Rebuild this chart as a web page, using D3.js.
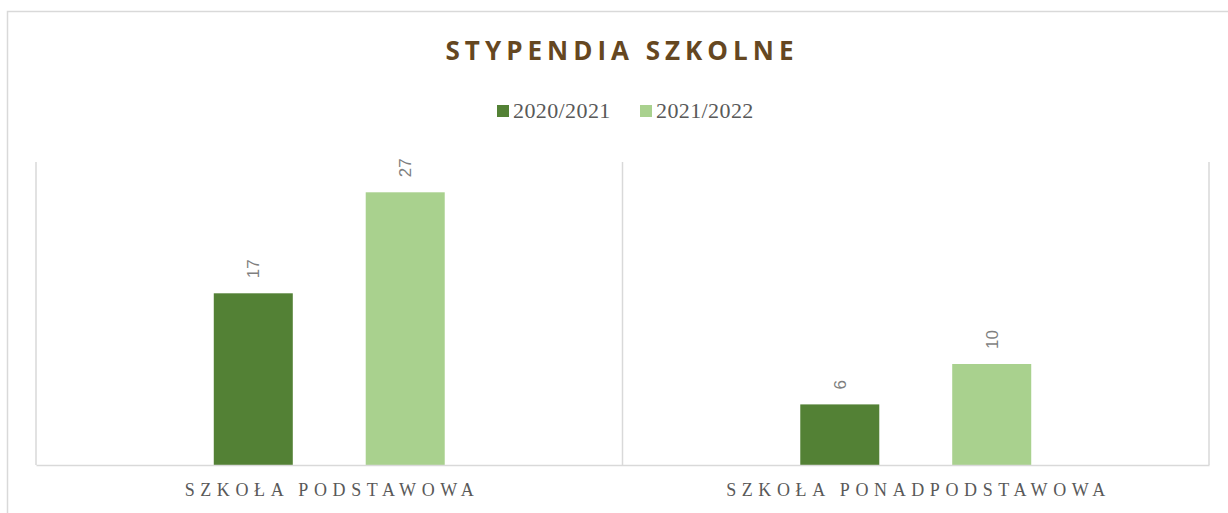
<!DOCTYPE html>
<html>
<head>
<meta charset="utf-8">
<script src="https://cdn.jsdelivr.net/npm/d3@7"></script>
<style>
  body { margin: 0; background: #fff; }
  svg { display: block; }
</style>
</head>
<body>
<svg></svg>
<script>
// data
const categories = ['SZKOŁA PODSTAWOWA', 'SZKOŁA PONADPODSTAWOWA']
const seriesNames = ['2020/2021', '2021/2022']
const values2020 = [17, 6]
const values2021 = [27, 10]
const colors = ['#538135', '#a9d18e']

const width = 1228, height = 513
const margin = { top: 162, right: 19, bottom: 48, left: 36 }

const svg = d3.select('svg')
  .attr('width', width)
  .attr('height', height)

// outer chart border
svg.append('rect')
  .attr('x', 7.5).attr('y', 11.5)
  .attr('width', width).attr('height', height)
  .attr('fill', 'none')
  .attr('stroke', '#d9d9d9')
  .attr('stroke-width', 1.5)

const x0 = d3.scaleBand()
  .domain(categories)
  .range([margin.left, width - margin.right])

const x1 = d3.scaleBand()
  .domain(seriesNames)
  .range([0, x0.bandwidth()])
  .paddingInner(0.48)
  .paddingOuter(1.17)

const y = d3.scaleLinear()
  .domain([0, 30])
  .range([height - margin.bottom, margin.top])

// vertical separators between categories
const seps = [margin.left, ...categories.map(c => x0(c) + x0.bandwidth())]
svg.append('g')
  .selectAll('line')
  .data(seps)
  .join('line')
  .attr('x1', d => d).attr('x2', d => d)
  .attr('y1', y(30)).attr('y2', y(0))
  .attr('stroke', '#d9d9d9')
  .attr('stroke-width', 1.5)

// bars
const rows = categories.map((c, i) => ({ cat: c, vals: [values2020[i], values2021[i]] }))
const groups = svg.append('g')
  .selectAll('g')
  .data(rows)
  .join('g')
  .attr('transform', d => `translate(${x0(d.cat)},0)`)

groups.selectAll('rect')
  .data(d => d.vals.map((v, j) => ({ name: seriesNames[j], v, j })))
  .join('rect')
  .attr('x', d => x1(d.name))
  .attr('y', d => y(d.v))
  .attr('width', x1.bandwidth())
  .attr('height', d => y(0) - y(d.v))
  .attr('fill', d => colors[d.j])

// data labels, rotated
groups.selectAll('text')
  .data(d => d.vals.map((v, j) => ({ name: seriesNames[j], v })))
  .join('text')
  .attr('transform', d => `translate(${x1(d.name) + x1.bandwidth() / 2 + 6},${y(d.v) - 15}) rotate(-90)`)
  .attr('font-family', 'Liberation Sans, Arial, sans-serif')
  .attr('font-size', 17)
  .attr('fill', '#7f7f7f')
  .text(d => d.v)

// baseline axis
const xAxis = svg.append('g')
  .attr('transform', `translate(0,${y(0)})`)
  .call(d3.axisBottom(x0).tickSize(0).tickPadding(18))
xAxis.select('.domain').attr('stroke', '#d9d9d9').attr('stroke-width', 1.5)
xAxis.selectAll('text')
  .attr('font-family', 'Liberation Serif, DejaVu Serif, serif')
  .attr('font-size', 18)
  .attr('letter-spacing', '5.6px')
  .attr('dx', '2.8px')
  .attr('fill', '#595959')

// title
svg.append('text')
  .attr('x', 622)
  .attr('y', 60)
  .attr('text-anchor', 'middle')
  .attr('font-family', 'Open Sans, sans-serif')
  .attr('font-weight', 'bold')
  .attr('font-size', 26)
  .attr('letter-spacing', '5px')
  .attr('fill', '#654721')
  .text('STYPENDIA SZKOLNE')

// legend
const legendX = [497, 640]
const legend = svg.append('g')
  .selectAll('g')
  .data(seriesNames)
  .join('g')
  .attr('transform', (d, i) => `translate(${legendX[i]},105)`)
legend.append('rect')
  .attr('width', 12).attr('height', 12)
  .attr('fill', (d, i) => colors[i])
legend.append('text')
  .attr('x', 16).attr('y', 13)
  .attr('font-family', 'Liberation Serif, DejaVu Serif, serif')
  .attr('font-size', 22)
  .attr('letter-spacing', '0.4px')
  .attr('fill', '#595959')
  .text(d => d)
</script>
</body>
</html>
